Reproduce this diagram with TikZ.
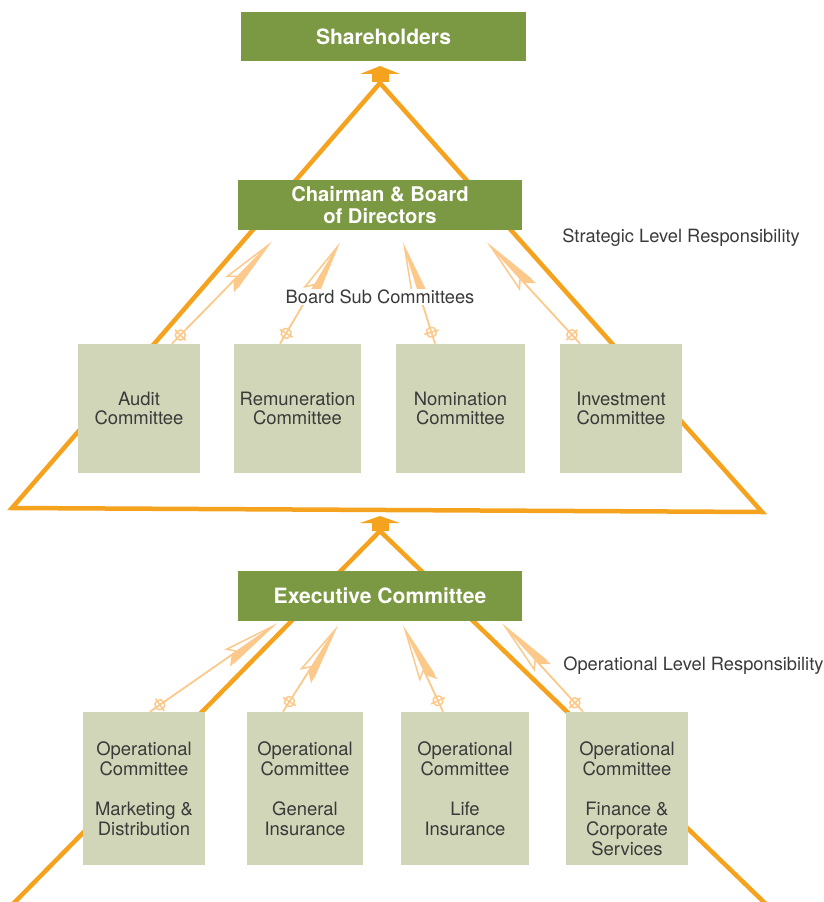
\documentclass[tikz,border=0pt]{standalone}
\usepackage{fontspec}
\setmainfont{TeX Gyre Heros}
\usetikzlibrary{arrows.meta,calc,decorations.markings}

\definecolor{boardgreen}{HTML}{7B9842}
\definecolor{committeegray}{HTML}{D2D6B8}
\definecolor{lineorange}{HTML}{F5A31F}
\definecolor{linklight}{HTML}{FDC98A}
\definecolor{labelgray}{HTML}{3A3A3A}

\begin{document}
\begin{tikzpicture}[x=0.2mm,y=-0.2mm,
    board/.style={fill=boardgreen, text=white, font=\bfseries\fontsize{12}{12.5}\selectfont,
      align=center, minimum width=56.8mm, minimum height=10mm, inner sep=0pt},
    subbox/.style={fill=committeegray, text=labelgray, font=\fontsize{10.5}{11.3}\selectfont,
      align=center, minimum height=25.8mm, inner sep=0pt},
    opbox/.style={fill=committeegray, minimum height=30.6mm, inner sep=0pt},
    optext/.style={text=labelgray, font=\fontsize{10.5}{11.3}\selectfont, align=center,
      anchor=north, inner sep=0pt},
    note/.style={text=labelgray, font=\fontsize{10.4}{12}\selectfont, inner sep=0pt},
    frame/.style={draw=lineorange, line width=0.9mm, line join=miter},
    upmark/.style={fill=lineorange},
    report/.style={draw=linklight, line width=0.3mm,
      -{Stealth[open, fill=white, length=11.6mm, width=3.4mm, inset=1.6mm]},
      postaction={draw=linklight, -{Stealth[harpoon, swap, fill=linklight, length=11.6mm, width=3.4mm, inset=1.6mm]}},
      postaction={decorate, decoration={markings, mark=at position 2.4mm with
        {\draw[linklight, line width=0.3mm] (0,0) circle (1mm) (0,-1.5mm) -- (0,1.5mm);}}}}
  ]
  \useasboundingbox (0,0) rectangle (823,902);
  \clip (0,0) rectangle (823,902);

  % strategic triangle
  \coordinate (topapex) at (380,83);
  \coordinate (topleft) at (12,508);
  \coordinate (topright) at (762,512);
  \draw[frame] (topleft) -- (topapex) -- (topright) -- cycle;
  \fill[upmark] (380,66) -- (400,74) -- (389,74) -- (389,82) -- (372,82) -- (372,74) -- (360,74) -- cycle;

  % operational triangle
  \coordinate (lowapex) at (380,531);
  \coordinate (lowleft) at (9,908);
  \coordinate (lowright) at (770,908);
  \draw[frame] (lowleft) -- (lowapex) -- (lowright);
  \fill[upmark] (380,516) -- (400,523) -- (389,523) -- (389,531) -- (372,531) -- (372,523) -- (360,523) -- cycle;

  \node[board, minimum width=57mm, minimum height=9.8mm] (share) at (383.5,36.5) {Shareholders};
  \node[board, font=\bfseries\fontsize{11.5}{12.2}\selectfont] (chair) at (380,205) {Chairman \& Board\\of Directors};
  \node[board] (exec) at (380,596) {Executive Committee};

  \node[note, anchor=west] (strategic) at (562,238) {Strategic Level Responsibility};
  \node[note, anchor=west] (operational) at (563,666) {Operational Level Responsibility};

  \node[subbox, minimum width=24.4mm] (audit) at (139,408.5) {Audit\\Committee};
  \node[subbox, minimum width=25.4mm] (remun) at (297.5,408.5) {Remuneration\\Committee};
  \node[subbox, minimum width=25.8mm] (nomin) at (460.5,408.5) {Nomination\\Committee};
  \node[subbox, minimum width=24.4mm] (invest) at (621,408.5) {Investment\\Committee};

  \node[opbox, minimum width=24.4mm] (op1) at (144,788.5) {};
  \node[opbox, minimum width=23.2mm] (op2) at (305,788.5) {};
  \node[opbox, minimum width=25.6mm] (op3) at (465,788.5) {};
  \node[opbox, minimum width=24.4mm] (op4) at (627,788.5) {};
  \node[optext] (op1text) at ($(op1.north)+(0,30)$) {Operational\\Committee\\[11.3pt]Marketing \&\\Distribution};
  \node[optext] (op2text) at ($(op2.north)+(0,30)$) {Operational\\Committee\\[11.3pt]General\\Insurance};
  \node[optext] (op3text) at ($(op3.north)+(0,30)$) {Operational\\Committee\\[11.3pt]Life\\Insurance};
  \node[optext] (op4text) at ($(op4.north)+(0,30)$) {Operational\\Committee\\[11.3pt]Finance \&\\Corporate\\Services};

  % committees report upwards
  \draw[report] ($(audit.north)+(33,0)$) -- ($(chair.south)+(-108,11)$);
  \draw[report] ($(remun.north)+(-17.5,0)$) -- ($(chair.south)+(-40,12)$);
  \draw[report] ($(nomin.north)+(-25.5,0)$) -- ($(chair.south)+(23,12)$);
  \draw[report] ($(invest.north)+(-41,0)$) -- ($(chair.south)+(107,12)$);
  \node[note, fill=white, inner sep=0.5pt] (subtitle) at (380,297) {Board Sub Committees};

  \draw[report] ($(op1.north)+(6,0)$) -- ($(exec.south)+(-103,2)$);
  \draw[report] ($(op2.north)+(-22,0)$) -- ($(exec.south)+(-42,4)$);
  \draw[report] ($(op3.north)+(-22,0)$) -- ($(exec.south)+(23,4)$);
  \draw[report] ($(op4.north)+(-44,0)$) -- ($(exec.south)+(122,2)$);
\end{tikzpicture}
\end{document}
